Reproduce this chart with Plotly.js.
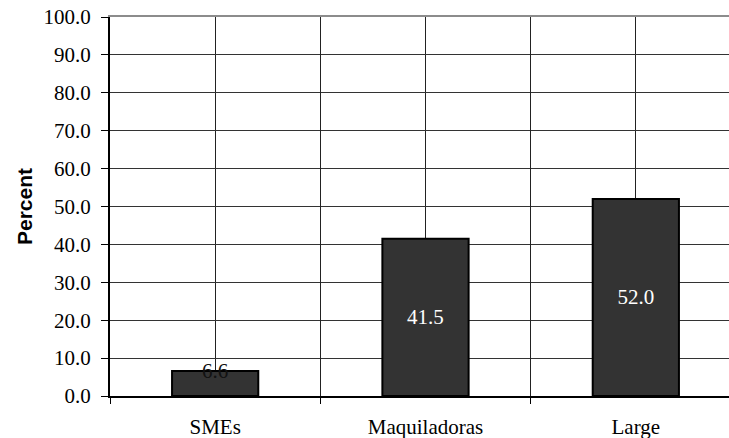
<!DOCTYPE html>
<html>
<head>
<meta charset="utf-8">
<script src="https://cdn.plot.ly/plotly-3.0.1.min.js"></script>
<style>
  html, body { margin: 0; padding: 0; background: #fff; }
  #chart { width: 729px; height: 438px; }
  #chart svg text { font-family: "Liberation Serif", "Times New Roman", serif !important; }
  #chart svg .ytitle { font-family: "Liberation Sans", Arial, sans-serif !important; font-weight: bold !important; }
</style>
</head>
<body>
<div id="chart"></div>
<script>
// Share of firms by type (percent)
const categories = ["SMEs", "Maquiladoras", "Large"];
const percents = [6.6, 41.5, 52.0];
const yTicks = [0, 10, 20, 30, 40, 50, 60, 70, 80, 90, 100];

const serif = "Liberation Serif";
const sans = "Liberation Sans";

const labels = percents.map(v => v.toFixed(1));

const bars = {
  type: "bar",
  x: categories,
  y: percents,
  width: 0.41,
  marker: { color: "#333333", line: { color: "#000000", width: 2 } },
  text: labels,
  textposition: percents.map((v, i) => i === 0 ? "none" : "inside"),
  insidetextanchor: "middle",
  textangle: 0,
  textfont: { family: serif, size: 21, color: "#ffffff" },
  hoverinfo: "skip"
};

// The short bar carries its value in dark text over its top edge
const smallLabel = {
  x: categories[0],
  y: percents[0],
  xref: "x",
  yref: "y",
  text: labels[0],
  showarrow: false,
  xanchor: "center",
  yanchor: "middle",
  font: { family: serif, size: 21, color: "#111111" }
};

const xEnd = 2.443;

const layout = {
  width: 729,
  height: 438,
  margin: { l: 110, r: 0, t: 17, b: 42 },
  paper_bgcolor: "#ffffff",
  plot_bgcolor: "#ffffff",
  showlegend: false,
  font: { family: serif, size: 21, color: "#000000" },
  annotations: [smallLabel],
  xaxis: {
    type: "category",
    categoryorder: "array",
    categoryarray: categories,
    range: [-0.5, xEnd],
    showgrid: true,
    gridcolor: "#222222",
    gridwidth: 1,
    showline: true,
    linecolor: "#000000",
    linewidth: 2,
    ticks: "outside",
    ticklen: 11,
    tickcolor: "rgba(0,0,0,0)",
    tickfont: { family: serif, size: 21, color: "#000000" },
    zeroline: false,
    fixedrange: true
  },
  // category boundaries: tick marks and dividing gridlines
  xaxis2: {
    type: "linear",
    overlaying: "x",
    side: "bottom",
    range: [-0.5, xEnd],
    tickvals: [-0.5, 0.5, 1.5, 2.5],
    showticklabels: false,
    ticks: "outside",
    ticklen: 7,
    tickwidth: 1,
    tickcolor: "#000000",
    showgrid: true,
    gridcolor: "#222222",
    gridwidth: 1,
    showline: false,
    zeroline: false,
    fixedrange: true
  },
  // frame line along the top of the plot area
  xaxis3: {
    type: "linear",
    overlaying: "x",
    side: "top",
    range: [-0.5, xEnd],
    showticklabels: false,
    ticks: "",
    showgrid: false,
    showline: true,
    linecolor: "#8c8c8c",
    linewidth: 2,
    zeroline: false,
    fixedrange: true
  },
  yaxis: {
    range: [0, 100],
    tickvals: yTicks,
    ticktext: yTicks.map(v => v.toFixed(1)),
    showgrid: true,
    gridcolor: "#333333",
    gridwidth: 1,
    showline: true,
    linecolor: "#000000",
    linewidth: 2,
    ticks: "outside",
    ticklen: 7,
    tickwidth: 1,
    tickcolor: "#000000",
    ticklabelstandoff: 6,
    tickfont: { family: serif, size: 21, color: "#000000" },
    zeroline: false,
    fixedrange: true,
    title: {
      text: "Percent",
      font: { family: sans, size: 21, color: "#000000", weight: "bold" },
      standoff: 5
    }
  }
};

const dummy2 = { type: "scatter", x: [], y: [], xaxis: "x2", yaxis: "y", hoverinfo: "skip", showlegend: false };
const dummy3 = { type: "scatter", x: [], y: [], xaxis: "x3", yaxis: "y", hoverinfo: "skip", showlegend: false };

const traces = [bars, dummy2, dummy3];
const config = { staticPlot: true };

Plotly.newPlot("chart", traces, layout, config);

// redraw once the serif face is ready so text metrics use it
if (document.fonts && document.fonts.load) {
  Promise.all([
    document.fonts.load('21px "Liberation Serif"'),
    document.fonts.load('bold 21px "Liberation Sans"')
  ]).then(() => Plotly.react("chart", traces, layout, config)).catch(() => {});
}
</script>
</body>
</html>
